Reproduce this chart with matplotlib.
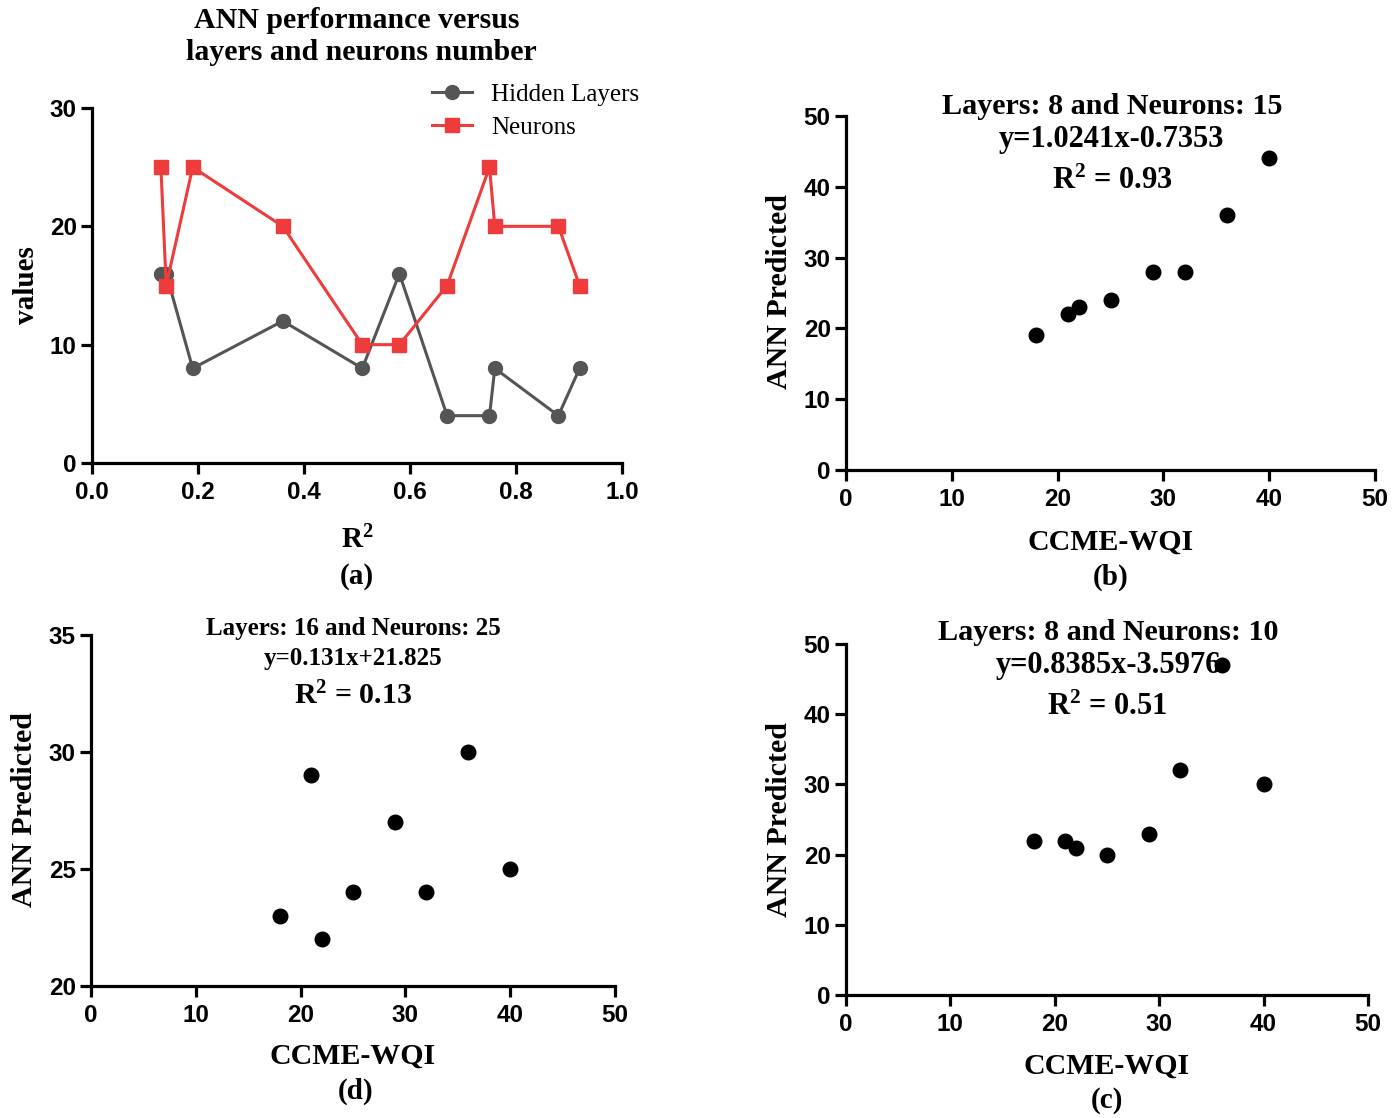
import matplotlib
matplotlib.use("Agg")
import matplotlib.pyplot as plt

# ---- data -------------------------------------------------------------
r2_values = [0.13, 0.14, 0.19, 0.36, 0.51, 0.58, 0.67, 0.75, 0.76, 0.88, 0.92]
hidden_layers = [16, 16, 8, 12, 8, 16, 4, 4, 8, 4, 8]
neurons = [25, 15, 25, 20, 10, 10, 15, 25, 20, 20, 15]

ccme_wqi = [18, 21, 22, 25, 29, 32, 36, 40]
pred_l8_n15 = [19, 22, 23, 24, 28, 28, 36, 44]
pred_l16_n25 = [23, 29, 22, 24, 27, 24, 30, 25]
pred_l8_n10 = [22, 22, 21, 20, 23, 32, 47, 30]

# ---- styling ----------------------------------------------------------
W, H = 1397, 1118
plt.rcParams["mathtext.fontset"] = "custom"
plt.rcParams["mathtext.rm"] = "Liberation Serif:bold"
plt.rcParams["mathtext.bf"] = "Liberation Serif:bold"
plt.rcParams["mathtext.default"] = "bf"

SERIF = ["Liberation Serif", "DejaVu Serif"]
TICKFONT = ["Liberation Sans Narrow", "Liberation Sans", "DejaVu Sans"]
GRAY = "#555555"
RED = "#EE3B3B"

fig = plt.figure(figsize=(W / 100, H / 100), dpi=100)


def px_axes(left, top, right, bottom):
    return fig.add_axes([left / W, 1 - bottom / H, (right - left) / W, (bottom - top) / H])


def ftext(x, y, s, size, weight="bold", rotation=0):
    fig.text(x / W, 1 - y / H, s, ha="center", va="center", family=SERIF,
             fontsize=size, fontweight=weight, rotation=rotation)


def style_axes(ax, xlim, ylim, xticks, yticks, xfmt=None):
    ax.set_xlim(*xlim)
    ax.set_ylim(*ylim)
    ax.set_xticks(xticks)
    ax.set_yticks(yticks)
    if xfmt:
        ax.set_xticklabels([xfmt.format(v) for v in xticks])
    for side in ("top", "right"):
        ax.spines[side].set_visible(False)
    for side in ("left", "bottom"):
        ax.spines[side].set_linewidth(2.3)
    ax.tick_params(direction="out", length=8, width=2.3, colors="black")
    ax.tick_params(axis="x", pad=5)
    ax.tick_params(axis="y", pad=3)
    for lab in ax.get_xticklabels() + ax.get_yticklabels():
        lab.set_family(TICKFONT)
        lab.set_fontweight("bold")
        lab.set_fontsize(17.5)


# ---- (a) performance vs layers / neurons ----------------------------
ax_a = px_axes(92, 108, 622, 463)
ax_a.plot(r2_values, hidden_layers, color=GRAY, lw=2.2, marker="o", ms=10,
          label="Hidden Layers", clip_on=False)
ax_a.plot(r2_values, neurons, color=RED, lw=2.2, marker="s", ms=9.5,
          label="Neurons", clip_on=False)
style_axes(ax_a, (0, 1.0), (0, 30), [0, 0.2, 0.4, 0.6, 0.8, 1.0], [0, 10, 20, 30], "{:.1f}")
ax_a.legend(loc="upper left", bbox_to_anchor=(432 / W, 1 - 83 / H),
            bbox_transform=fig.transFigure, frameon=False, borderpad=0,
            borderaxespad=0, handlelength=1.6, handletextpad=0.75,
            labelspacing=0.42, prop={"family": SERIF, "size": 18})
ftext(357, 20, "ANN performance versus", 21.5)
ftext(361, 52, "layers and neurons number", 21.5)
ftext(26, 285, "values", 21, rotation=90)
ftext(357, 540, "R$^{2}$", 21)
ftext(357, 577, "(a)", 21)

# ---- (b) layers 8, neurons 15 ----------------------------------------
ax_b = px_axes(846, 116, 1375, 470)
ax_b.scatter(ccme_wqi, pred_l8_n15, s=110, color="black", zorder=3, clip_on=False)
style_axes(ax_b, (0, 50), (0, 50), range(0, 51, 10), range(0, 51, 10))
ftext(1112, 106, "Layers: 8 and Neurons: 15", 21.7)
ftext(1111, 140, "y=1.0241x-0.7353", 22)
ftext(1112, 181, "R$^{2}$ = 0.93", 22)
ftext(780, 292, "ANN Predicted", 21.5, rotation=90)
ftext(1111, 542, "CCME-WQI", 21.5)
ftext(1111, 577, "(b)", 21)

# ---- (d) layers 16, neurons 25 ---------------------------------------
ax_d = px_axes(91, 635, 615, 986)
ax_d.scatter(ccme_wqi, pred_l16_n25, s=110, color="black", zorder=3, clip_on=False)
style_axes(ax_d, (0, 50), (20, 35), range(0, 51, 10), range(20, 36, 5))
ftext(353, 629, "Layers: 16 and Neurons: 25", 18)
ftext(353, 659, "y=0.131x+21.825", 18)
ftext(353, 696, "R$^{2}$ = 0.13", 21.5)
ftext(25, 810, "ANN Predicted", 21.5, rotation=90)
ftext(353, 1056, "CCME-WQI", 21.5)
ftext(356, 1091, "(d)", 21)

# ---- (c) layers 8, neurons 10 ----------------------------------------
ax_c = px_axes(846, 644, 1368, 995)
ax_c.scatter(ccme_wqi, pred_l8_n10, s=110, color="black", zorder=3, clip_on=False)
style_axes(ax_c, (0, 50), (0, 50), range(0, 51, 10), range(0, 51, 10))
ftext(1108, 633, "Layers: 8 and Neurons: 10", 21.7)
ftext(1108, 666, "y=0.8385x-3.5976", 22)
ftext(1107, 707, "R$^{2}$ = 0.51", 22)
ftext(780, 820, "ANN Predicted", 21.5, rotation=90)
ftext(1107, 1066, "CCME-WQI", 21.5)
ftext(1107, 1101, "(c)", 21)

fig.savefig("out.png", dpi=100)
